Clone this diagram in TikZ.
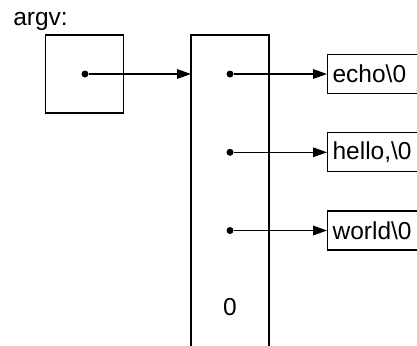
\documentclass[tikz,border=0pt]{standalone}
\usepackage{fontspec}
\setmainfont{Liberation Sans}
\usetikzlibrary{arrows.meta}

\begin{document}
\begin{tikzpicture}[x=0.5pt,y=-0.5pt,line width=0.6pt,
  font=\fontsize{12.25}{14}\selectfont,
  ptr/.style={-{Triangle[length=7pt,width=4.8pt]}},
  dot/.style={circle,fill,inner sep=0pt,minimum size=3.5pt},
  strbox/.style={draw,anchor=west,minimum height=19.5pt,text width=40pt,inner xsep=2.5pt,inner ysep=0pt,align=left}]
\useasboundingbox (0,0) rectangle (417,345);
\node[anchor=base west,inner sep=0] (label) at (12.7,25.5) {argv:};
\node[draw,minimum width=39pt,minimum height=39pt,inner sep=0] (argv) at (84.7,74) {};
\draw (191,346) -- (191,35) -- (269,35) -- (269,346);
\coordinate (vec) at (191,74);
\node[dot] (p0) at (85,74) {};
\draw[ptr] (p0) -- (vec);
\node[dot] (p1) at (230,74) {};
\node[dot] (p2) at (230,152.3) {};
\node[dot] (p3) at (230,230.5) {};
\node[strbox] (s1) at (327,74) {echo\textbackslash 0};
\node[strbox] (s2) at (327,152.3) {hello,\textbackslash 0};
\node[strbox] (s3) at (327,230.5) {world\textbackslash 0};
\draw[ptr] (p1) -- (s1);
\draw[ptr] (p2) -- (s2);
\draw[ptr] (p3) -- (s3);
\node (null) at (230,307) {0};
\end{tikzpicture}
\end{document}
